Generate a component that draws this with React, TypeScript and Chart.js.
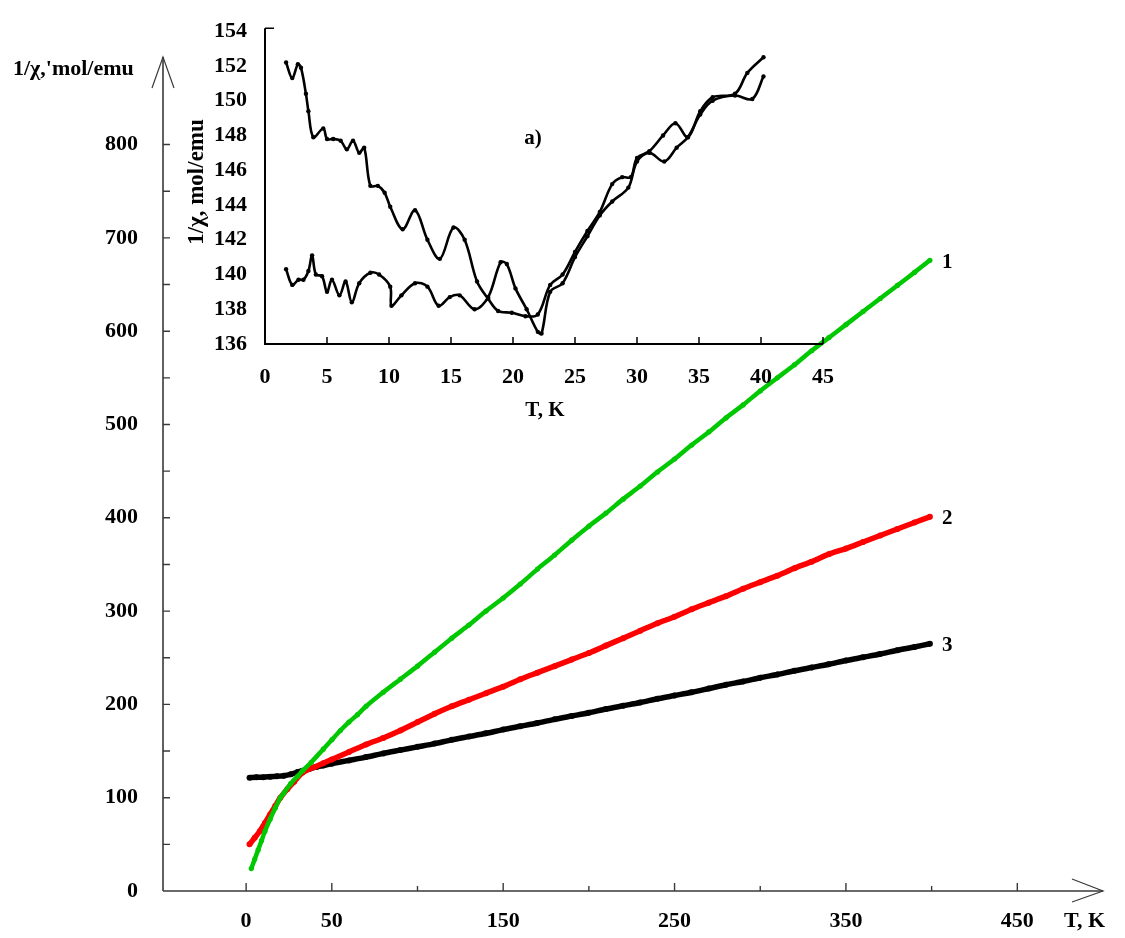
import React, { useEffect, useRef } from "react";
import { Chart, registerables } from "chart.js";

Chart.register(...registerables);

const FONT_FAMILY = "'Liberation Serif', 'Times New Roman', serif";

// ---------- main chart data: 1/chi (mol/emu) vs T (K) ----------
const CURVE_NAMES = ["1", "2", "3"];
const CURVE_COLORS = ["#00c800", "#ff0000", "#000000"];

const T_CURVE1 = [3, 5, 7, 9, 11, 14, 17, 20, 22, 26, 30, 33, 38, 45, 50, 55, 60, 65, 70, 80, 90, 100, 110, 120, 130, 140, 150, 160, 170, 180, 190, 200, 210, 220, 230, 240, 250, 260, 270, 280, 290, 300, 310, 320, 330, 340, 350, 360, 370, 380, 390, 399];
const V_CURVE1 = [24, 34, 44, 54, 64, 77, 89, 100, 105, 115, 123, 129, 138, 152, 162, 172, 181, 189, 198, 213, 227, 241, 256, 271, 285, 300, 314, 329, 345, 360, 376, 391, 405, 420, 434, 449, 463, 478, 492, 507, 521, 536, 550, 564, 579, 593, 607, 621, 635, 649, 663, 676];

const T_CURVE2 = [2, 5, 8, 11, 14, 17, 20, 24, 28, 33, 40, 45, 50, 60, 70, 80, 90, 100, 110, 120, 130, 140, 150, 160, 170, 180, 190, 200, 210, 220, 230, 240, 250, 260, 270, 280, 290, 300, 310, 320, 330, 340, 350, 360, 370, 380, 390, 399];
const V_CURVE2 = [50, 57, 64, 73, 82, 91, 100, 109, 117, 127, 133, 137, 141, 149, 157, 164, 172, 181, 190, 198, 205, 212, 219, 227, 234, 241, 248, 255, 263, 271, 279, 287, 294, 302, 309, 316, 324, 331, 338, 346, 353, 361, 367, 374, 381, 388, 395, 401];

const T_CURVE3 = [2, 6, 10, 14, 18, 22, 26, 30, 33, 37, 41, 45, 50, 60, 70, 80, 90, 100, 110, 120, 130, 140, 150, 160, 170, 180, 190, 200, 210, 220, 230, 240, 250, 260, 270, 280, 290, 300, 310, 320, 330, 340, 350, 360, 370, 380, 390, 399];
const V_CURVE3 = [121.5, 122, 122, 122.5, 123, 123.5, 125, 127.5, 129, 131, 133, 134.5, 136.5, 140, 143.5, 147.5, 151, 154.5, 158, 162, 165.5, 169, 173, 176.5, 180, 184, 187.5, 191, 195, 198.5, 202, 206, 209.5, 213, 217, 221, 224.5, 228.5, 232, 236, 239.5, 243, 247, 250.5, 254, 258, 261.5, 265];

const X_TICKS = [0, 50, 100, 150, 200, 250, 300, 350, 400, 450];
const X_TICK_LABELS = ["0", "50", "", "150", "", "250", "", "350", "", "450"];
const Y_TICKS = [0, 100, 200, 300, 400, 500, 600, 700, 800];
const Y_MINOR_TICKS = [50, 150, 250, 350, 450, 550, 650, 750];

const MAIN_Y_TITLE = "1/χ,'mol/emu";
const MAIN_X_TITLE = "T, K";

// ---------- inset a) data ----------
const INSET_A_T = [1.7, 2.2, 2.65, 2.9, 3.3, 3.5, 3.9, 4.7, 5.0, 5.5, 6.1, 6.6, 7.1, 7.6, 8.0, 8.5, 9.1, 9.65, 10.1, 11.1, 12.1, 13.1, 14.1, 15.2, 16.1, 17.1, 18.0, 18.8, 19.9, 21.0, 22.0, 23.0, 24.0, 25.0, 26.0, 27.0, 28.0, 28.8, 29.5, 30.0, 31.0, 32.1, 33.1, 34.1, 35.1, 36.1, 37.9, 38.9, 40.2];
const INSET_A_V = [152.2, 151.3, 152.1, 151.9, 150.4, 149.4, 147.9, 148.4, 147.8, 147.8, 147.7, 147.2, 147.7, 147.0, 147.3, 145.1, 145.1, 144.7, 143.9, 142.6, 143.7, 142.0, 140.9, 142.7, 142.0, 139.6, 138.6, 137.9, 137.8, 137.6, 137.7, 139.4, 140.0, 141.3, 142.5, 143.6, 145.2, 145.6, 145.6, 146.7, 147.1, 148.0, 148.7, 147.9, 149.4, 150.2, 150.4, 151.6, 152.5];

const INSET_B_T = [1.7, 2.2, 2.7, 3.1, 3.5, 3.8, 4.1, 4.6, 5.0, 5.4, 6.0, 6.5, 7.0, 7.6, 8.5, 9.2, 10.1, 10.2, 11.0, 12.1, 13.1, 14.0, 14.9, 15.7, 16.9, 18.0, 19.0, 19.5, 20.2, 21.1, 22.0, 22.3, 23.0, 24.0, 25.0, 26.0, 27.0, 28.0, 29.3, 30.0, 31.0, 32.2, 33.2, 34.1, 35.1, 36.1, 37.9, 39.3, 40.2];
const INSET_B_V = [140.3, 139.4, 139.7, 139.7, 140.2, 141.1, 140.0, 139.9, 139.0, 139.7, 138.8, 139.6, 138.4, 139.5, 140.1, 140.0, 139.3, 138.2, 138.8, 139.5, 139.3, 138.2, 138.7, 138.8, 138.0, 138.7, 140.7, 140.6, 139.2, 138.0, 136.7, 136.6, 139.0, 139.5, 141.0, 142.2, 143.4, 144.2, 145.0, 146.5, 147.0, 146.5, 147.3, 147.9, 149.2, 150.0, 150.3, 150.1, 151.4];

const INSET_X_TICKS = [0, 5, 10, 15, 20, 25, 30, 35, 40, 45];
const INSET_Y_TICKS = [136, 138, 140, 142, 144, 146, 148, 150, 152, 154];
const INSET_Y_TITLE = "1/χ, mol/emu";
const INSET_X_TITLE = "T, K";
const INSET_TAG = "a)";

const zip = (xs: number[], ys: number[]) => xs.map((x, i) => ({ x, y: ys[i] }));
const bold = (size: number) => `bold ${size}px ${FONT_FAMILY}`;

const mainDecor = {
  id: "mainDecor",
  beforeDatasetsDraw(chart: any) {
    const { ctx, chartArea: a, scales } = chart;
    const xs = scales.x;
    const ys = scales.y;
    ctx.save();
    ctx.strokeStyle = "#3a3a3a";
    ctx.lineWidth = 1.6;
    ctx.beginPath();
    ctx.moveTo(a.left, a.bottom);
    ctx.lineTo(a.left, a.top + 2);
    ctx.moveTo(a.left, a.bottom);
    ctx.lineTo(a.right, a.bottom);
    ctx.stroke();
    ctx.lineWidth = 1.2;
    ctx.beginPath();
    ctx.moveTo(a.left - 11, a.top + 33);
    ctx.lineTo(a.left, a.top + 2);
    ctx.lineTo(a.left + 11, a.top + 33);
    ctx.moveTo(a.right - 31, a.bottom - 12);
    ctx.lineTo(a.right, a.bottom);
    ctx.lineTo(a.right - 31, a.bottom + 11);
    ctx.stroke();
    ctx.lineWidth = 1.4;
    ctx.beginPath();
    X_TICKS.forEach((v, i) => {
      const px = xs.getPixelForValue(v);
      const len = X_TICK_LABELS[i] ? 8 : 5;
      ctx.moveTo(px, a.bottom);
      ctx.lineTo(px, a.bottom - len);
    });
    [...Y_TICKS.slice(1), ...Y_MINOR_TICKS].forEach((v) => {
      const py = ys.getPixelForValue(v);
      ctx.moveTo(a.left, py);
      ctx.lineTo(a.left + 7, py);
    });
    ctx.stroke();
    ctx.restore();
  },
  afterDatasetsDraw(chart: any) {
    const { ctx, chartArea: a, scales } = chart;
    ctx.save();
    ctx.fillStyle = "#000";
    ctx.font = bold(21);
    ctx.textBaseline = "middle";
    ctx.textAlign = "left";
    chart.data.datasets.forEach((ds: any) => {
      const last = ds.data[ds.data.length - 1];
      const px = scales.x.getPixelForValue(last.x);
      const py = scales.y.getPixelForValue(last.y);
      ctx.fillText(ds.label, px + 12, py + 2);
    });
    ctx.font = bold(22);
    ctx.fillText(MAIN_Y_TITLE, 13, 69);
    ctx.fillText(MAIN_X_TITLE, a.right - 39, a.bottom + 30);
    ctx.restore();
  },
};

const insetDecor = {
  id: "insetDecor",
  beforeDatasetsDraw(chart: any) {
    const { ctx, chartArea: a, scales } = chart;
    ctx.save();
    ctx.strokeStyle = "#000";
    ctx.lineWidth = 2;
    ctx.beginPath();
    ctx.moveTo(a.left, a.top - 3);
    ctx.lineTo(a.left, a.bottom);
    ctx.lineTo(a.right, a.bottom);
    ctx.stroke();
    ctx.lineWidth = 1.5;
    ctx.beginPath();
    INSET_X_TICKS.forEach((v) => {
      const px = scales.x.getPixelForValue(v);
      ctx.moveTo(px, a.bottom);
      ctx.lineTo(px, a.bottom - 7);
    });
    ctx.moveTo(a.left, a.top - 3);
    ctx.lineTo(a.left + 9, a.top - 3);
    ctx.stroke();
    ctx.fillStyle = "#000";
    ctx.textAlign = "center";
    ctx.textBaseline = "middle";
    ctx.font = bold(21);
    ctx.fillText(INSET_TAG, 533, 139);
    ctx.font = bold(21);
    ctx.fillText(INSET_X_TITLE, 545, 411);
    ctx.translate(197, 182);
    ctx.rotate(-Math.PI / 2);
    ctx.font = bold(23);
    ctx.fillText(INSET_Y_TITLE, 0, 0);
    ctx.restore();
  },
};

export default function App() {
  const mainRef = useRef<HTMLCanvasElement | null>(null);
  const insetRef = useRef<HTMLCanvasElement | null>(null);

  useEffect(() => {
    const tickFont = { family: FONT_FAMILY, weight: "bold" as const, size: 22 };
    const curves = [
      [T_CURVE1, V_CURVE1],
      [T_CURVE2, V_CURVE2],
      [T_CURVE3, V_CURVE3],
    ];
    const main = new Chart(mainRef.current as HTMLCanvasElement, {
      type: "scatter",
      data: {
        datasets: curves.map(([t, v], i) => ({
          label: CURVE_NAMES[i],
          data: zip(t, v),
          showLine: true,
          borderColor: CURVE_COLORS[i],
          backgroundColor: CURVE_COLORS[i],
          borderWidth: i === 0 ? 4.5 : 5.5,
          pointRadius: i === 0 ? 2.6 : 3,
          pointBorderWidth: 0,
          pointBackgroundColor: CURVE_COLORS[i],
          tension: 0.25,
        })),
      },
      options: {
        animation: false,
        responsive: false,
        maintainAspectRatio: false,
        layout: { padding: { top: 55, right: 22, left: 0, bottom: 0 } },
        plugins: { legend: { display: false }, tooltip: { enabled: false } },
        scales: {
          x: {
            type: "linear",
            min: -48.5,
            max: 500,
            grid: { display: false, drawTicks: false },
            border: { display: false },
            afterBuildTicks: (s: any) => {
              s.ticks = X_TICKS.map((value) => ({ value }));
            },
            afterFit: (s: any) => {
              s.height = 47;
            },
            ticks: {
              autoSkip: false,
              maxRotation: 0,
              padding: 17,
              color: "#000",
              font: tickFont,
              callback: (v: any) => X_TICK_LABELS[X_TICKS.indexOf(Number(v))] ?? "",
            },
          },
          y: {
            type: "linear",
            min: 0,
            max: 896,
            grid: { display: false, drawTicks: false },
            border: { display: false },
            afterBuildTicks: (s: any) => {
              s.ticks = Y_TICKS.map((value) => ({ value }));
            },
            afterFit: (s: any) => {
              s.width = 163;
            },
            ticks: { autoSkip: false, padding: 25, color: "#000", font: tickFont },
          },
        },
      },
      plugins: [mainDecor],
    });

    const insetSeries = [
      [INSET_A_T, INSET_A_V],
      [INSET_B_T, INSET_B_V],
    ];
    const inset = new Chart(insetRef.current as HTMLCanvasElement, {
      type: "scatter",
      data: {
        datasets: insetSeries.map(([t, v], i) => ({
          label: i === 0 ? "a-1" : "a-2",
          data: zip(t, v),
          showLine: true,
          borderColor: "#000",
          backgroundColor: "#000",
          borderWidth: 2.6,
          pointRadius: 2.2,
          pointBorderWidth: 0,
          tension: 0.35,
        })),
      },
      options: {
        animation: false,
        responsive: false,
        maintainAspectRatio: false,
        layout: { padding: { left: 180, top: 25, right: 302, bottom: 514 } },
        plugins: { legend: { display: false }, tooltip: { enabled: false } },
        scales: {
          x: {
            type: "linear",
            min: 0,
            max: 45,
            grid: { display: false, drawTicks: false },
            border: { display: false },
            afterBuildTicks: (s: any) => {
              s.ticks = INSET_X_TICKS.map((value) => ({ value }));
            },
            afterFit: (s: any) => {
              s.height = 80;
            },
            ticks: { autoSkip: false, maxRotation: 0, padding: 20, color: "#000", font: tickFont },
          },
          y: {
            type: "linear",
            min: 136,
            max: 154,
            grid: { display: false, drawTicks: false },
            border: { display: false },
            afterBuildTicks: (s: any) => {
              s.ticks = INSET_Y_TICKS.map((value) => ({ value }));
            },
            afterFit: (s: any) => {
              s.width = 85;
            },
            ticks: { autoSkip: false, padding: 18, color: "#000", font: tickFont },
          },
        },
      },
      plugins: [insetDecor],
    });

    return () => {
      main.destroy();
      inset.destroy();
    };
  }, []);

  const canvasStyle: React.CSSProperties = {
    position: "absolute",
    left: 0,
    top: 0,
    width: 1125,
    height: 938,
  };

  return (
    <div style={{ position: "fixed", left: 0, top: 0, width: 1125, height: 938, background: "#fff" }}>
      <canvas ref={mainRef} width={1125} height={938} style={canvasStyle} />
      <canvas ref={insetRef} width={1125} height={938} style={{ ...canvasStyle, pointerEvents: "none" }} />
    </div>
  );
}
